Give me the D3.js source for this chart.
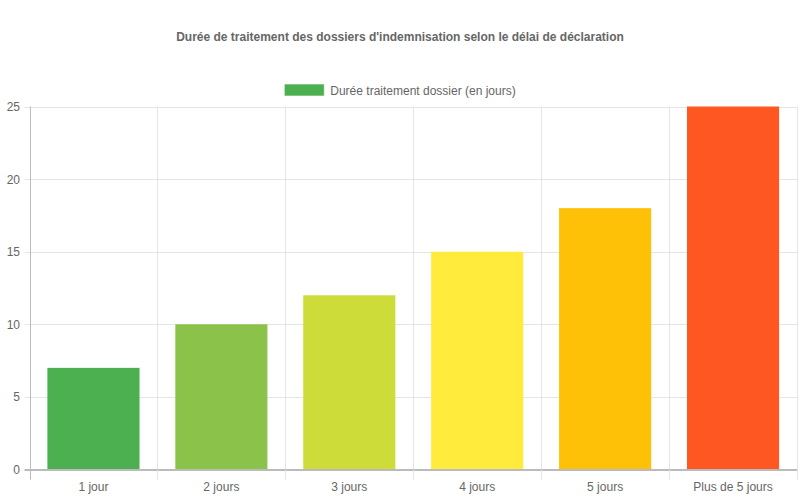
<!DOCTYPE html>
<html><head><meta charset="utf-8">
<script src="https://cdn.jsdelivr.net/npm/d3@7"></script>
<style>body{margin:0;background:#fff;}svg{display:block;font-family:"Liberation Sans",Arial,sans-serif;}</style>
</head><body>
<svg id="c" width="800" height="500"></svg>
<script>
const categories = ["1 jour","2 jours","3 jours","4 jours","5 jours","Plus de 5 jours"];
const values = [7,10,12,15,18,25];
const colors = ["#4CAF50","#8BC34A","#CDDC39","#FFEB3B","#FFC107","#FF5722"];
const yTicks = [0,5,10,15,20,25];
const title = "Durée de traitement des dossiers d'indemnisation selon le délai de déclaration";
const seriesName = "Durée traitement dossier (en jours)";

const svg = d3.select("#c");
const L = 29.5, R = 797, T = 106.5, B = 469.5;
const x = d3.scaleBand().domain(categories).range([L, R]).paddingInner(0).paddingOuter(0);
const y = d3.scaleLinear().domain([0,25]).range([B, T]);

// title
svg.append("text").attr("x",400).attr("y",41).attr("text-anchor","middle")
  .attr("font-size",12).attr("font-weight","bold").attr("fill","#666").text(title);

// legend
const lw = 40, gap = 6;
const tmp = svg.append("text").attr("font-size",12).text(seriesName);
const tw = tmp.node().getComputedTextLength(); tmp.remove();
const lx = 400 - (lw + gap + tw)/2;
svg.append("rect").attr("x",lx).attr("y",84).attr("width",lw).attr("height",12)
  .attr("fill",colors[0]).attr("stroke","rgba(255,255,255,0.6)").attr("stroke-width",1);
svg.append("text").attr("x",lx+lw+gap).attr("y",94.5).attr("font-size",12).attr("fill","#666").text(seriesName);

// horizontal grid
svg.append("g").selectAll("line").data(yTicks).join("line")
  .attr("x1",L-5).attr("x2",R).attr("y1",d=>Math.round(y(d))+0.5).attr("y2",d=>Math.round(y(d))+0.5)
  .attr("stroke",d=>d===0?"#bbb":"#e5e5e5").attr("stroke-width",1);
// vertical grid
const vx = categories.map(c=>x(c)).concat([R]);
svg.append("g").selectAll("line").data(vx).join("line")
  .attr("x1",d=>Math.round(d)+0.5).attr("x2",d=>Math.round(d)+0.5)
  .attr("y1",T).attr("y2",B+10)
  .attr("stroke",(d,i)=>i===0?"#bbb":"#e5e5e5").attr("stroke-width",1);

// y labels
svg.append("g").selectAll("text").data(yTicks).join("text")
  .attr("x",20).attr("y",d=>y(d)+4.5).attr("text-anchor","end")
  .attr("font-size",12).attr("fill","#666").text(d=>d);

// bars
const bw = x.bandwidth()*0.72;
svg.append("g").selectAll("rect").data(values).join("rect")
  .attr("x",(d,i)=>x(categories[i]) + (x.bandwidth()-bw)/2)
  .attr("width",bw)
  .attr("y",d=>y(d)).attr("height",d=>B-y(d))
  .attr("fill",(d,i)=>colors[i]);

// baseline redraw
svg.append("line").attr("x1",L-5).attr("x2",R).attr("y1",B).attr("y2",B).attr("stroke","#bbb");

// x labels
svg.append("g").selectAll("text").data(categories).join("text")
  .attr("x",d=>x(d)+x.bandwidth()/2).attr("y",491).attr("text-anchor","middle")
  .attr("font-size",12).attr("fill","#666").text(d=>d);
</script>
</body></html>
